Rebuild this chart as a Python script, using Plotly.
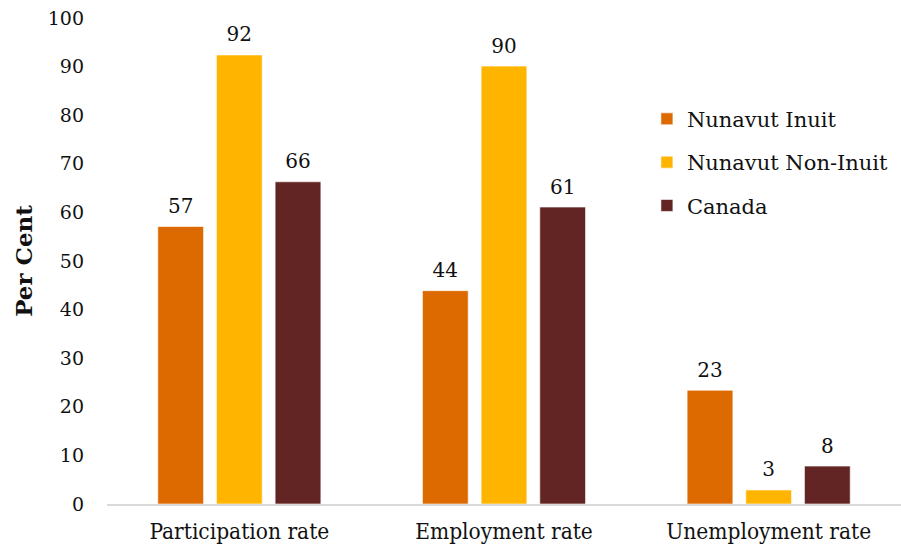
import plotly.graph_objects as go

categories = ["Participation rate", "Employment rate", "Unemployment rate"]
series_names = ["Nunavut Inuit", "Nunavut Non-Inuit", "Canada"]
inuit = [57.1, 43.9, 23.4]
non_inuit = [92.4, 90.1, 2.9]
canada = [66.3, 61.1, 7.8]
colors = ["#DC6A00", "#FFB500", "#632523"]
y_ticks = [0, 10, 20, 30, 40, 50, 60, 70, 80, 90, 100]

serif = "'DejaVu Serif', Georgia, serif"
narrow = "'DejaVu Serif Condensed', 'Liberation Serif', serif"

fig = go.Figure()
for i, (name, vals, col) in enumerate(zip(series_names, [inuit, non_inuit, canada], colors)):
    fig.add_trace(go.Bar(
        x=categories, y=vals, name=name, legendgroup=name,
        offsetgroup=str(i),
        marker=dict(color=col, line=dict(color="rgba(255,255,255,0.6)", width=1)),
    ))
for i, (name, vals) in enumerate(zip(series_names, [inuit, non_inuit, canada])):
    fig.add_trace(go.Scatter(
        x=categories, y=vals, mode="markers+text", showlegend=False,
        offsetgroup=str(i), hoverinfo="skip",
        marker=dict(size=12, opacity=0),
        text=[f"{round(v):d}" for v in vals],
        textposition="top center",
        textfont=dict(family=serif, size=20, color="#111111"),
        cliponaxis=False,
    ))

fig.update_layout(
    width=901, height=546,
    margin=dict(l=107, r=0, t=18, b=42),
    paper_bgcolor="white", plot_bgcolor="white",
    barmode="group", bargap=0.335, bargroupgap=0.22,
    scattermode="group", scattergap=0.335,
    font=dict(family=serif, color="#111111"),
    showlegend=True,
    legend=dict(x=0.68, y=0.834, xanchor="left", yanchor="top",
                font=dict(family=serif, size=21, color="#111111"),
                itemwidth=30, tracegroupgap=13, bgcolor="rgba(0,0,0,0)"),
)
fig.update_xaxes(
    automargin=False,
    showline=True, linecolor="#D9D9D9", linewidth=2,
    ticks="", showgrid=False, ticklabelstandoff=6,
    tickfont=dict(family=narrow, size=22.5, color="#111111"),
)
fig.update_yaxes(
    automargin=False,
    range=[0, 100], tickvals=y_ticks, showgrid=False, zeroline=False,
    showline=False, ticks="", ticklabelstandoff=22,
    tickfont=dict(family=serif, size=19, color="#111111"),
    title=dict(text="<b>Per Cent</b>", font=dict(family=serif, size=23, color="#111111"), standoff=8),
)

fig.write_html("out.html", config={"displayModeBar": False},
               post_script="document.body.style.margin='0';")
